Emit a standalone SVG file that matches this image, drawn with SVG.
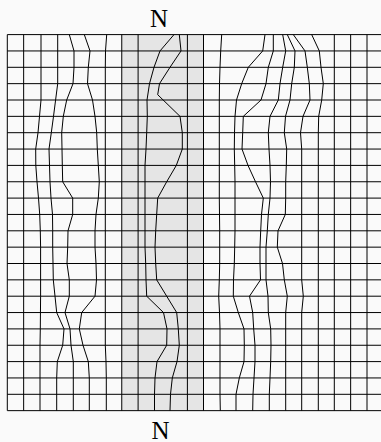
<svg xmlns="http://www.w3.org/2000/svg" width="381" height="442" viewBox="0 0 381 442">
<style>
.g{fill:none;stroke:#000;stroke-width:1}
.w{fill:none;stroke:#000;stroke-width:1;stroke-linejoin:round}
.lbl{font-family:"Liberation Serif","Times New Roman",serif;font-size:25px;fill:#000;text-anchor:middle}
</style>
<rect width="381" height="442" fill="#fafafa"/>
<g id="band"><rect x="121.75" y="34.6" width="81.75" height="376.05" fill="#e5e5e5"/></g>
<g id="horizontal">
<path class="g" d="M7.3 34.6H381M7.3 50.95H381M7.3 67.3H381M7.3 83.65H381M7.3 100H381M7.3 116.35H381M7.3 132.7H381M7.3 149.05H381M7.3 165.4H381M7.3 181.75H381M7.3 198.1H381M7.3 214.45H381M7.3 230.8H381M7.3 247.15H381M7.3 263.5H381M7.3 279.85H381M7.3 296.2H381M7.3 312.55H381M7.3 328.9H381M7.3 345.25H381M7.3 361.6H381M7.3 377.95H381M7.3 394.3H381M7.3 410.65H381"/>
</g>
<g id="vertical-straight">
<path class="g" d="M7.3 34.6V410.65M23.65 34.6V410.65M121.75 34.6V410.65M138.1 34.6V410.65M187.4 34.6V410.65M203.5 34.6V410.65M334.3 34.6V410.65M350.65 34.6V410.65M367 34.6V410.65"/>
</g>
<g id="vertical-deformed">
<polyline class="w" points="41,34.6 41,100 39.5,116.35 38,132.7 35.7,149.05 35.8,165.4 37,181.75 38.5,198.1 39.7,214.45 40.3,230.8 40.6,247.15 40.6,296.2 40.3,328.9 40,345.25 40,410.65"/>
<polyline class="w" points="57.7,34.6 57.7,83.65 55.6,100 53.5,116.35 51.3,132.7 49,149.05 49.5,165.4 50,181.75 51,198.1 52.5,214.45 52.7,230.8 52.7,247.15 53,263.5 53.3,279.85 55,296.2 56.7,312.55 64,328.9 62.7,345.25 57.3,361.6 56.7,377.95 56.7,410.65"/>
<polyline class="w" points="69.3,34.6 74,50.95 74,67.3 73,83.65 66.7,100 63.3,116.35 61.7,132.7 62,149.05 62.3,165.4 62.7,181.75 72.7,198.1 72.7,214.45 68,230.8 67.7,247.15 67,263.5 69.3,279.85 69.3,296.2 65,312.55 70,328.9 71,345.25 73.3,361.6 73.3,410.65"/>
<polyline class="w" points="84.3,34.6 90,50.95 88.3,67.3 87.5,83.65 92.5,100 95,116.35 96.7,132.7 97.3,149.05 98.3,165.4 99.3,181.75 98.3,198.1 96,214.45 95,230.8 95,247.15 96,263.5 96.5,279.85 95,296.2 81.7,312.55 79.3,328.9 83,345.25 88.3,361.6 89.3,377.95 89.3,410.65"/>
<polyline class="w" points="106.7,34.6 105.5,50.95 105.3,67.3 105.3,345.25 106,361.6 106.3,377.95 106.3,410.65"/>
<polyline class="w" points="174,34.6 160,50.95 154,67.3 149.5,83.65 147,100 147.3,116.35 146.7,132.7 146,149.05 145,165.4 145,247.15 145.7,263.5 146,279.85 146.7,296.2 163.5,312.55 167,328.9 166.7,345.25 157,361.6 155,377.95 154.5,394.3 154.5,410.65"/>
<polyline class="w" points="179.3,34.6 181,50.95 170,67.3 159.5,83.65 157.7,94.7 180,116.35 182.3,132.7 182.3,149.05 176.3,165.4 166.7,181.75 157.7,198.1 156.7,214.45 155.7,230.8 155,247.15 155.7,263.5 156.7,279.85 166.7,296.2 176.7,312.55 178.3,328.9 179.3,345.25 177,361.6 172.3,377.95 170.5,394.3 170,410.65"/>
<polyline class="w" points="221.7,34.6 220.7,50.95 220,67.3 219.5,83.65 219.3,100 219.3,198.1 219.7,230.8 219.7,263.5 219.3,279.85 218.7,296.2 219.5,312.55 220,328.9 220,394.3 220.3,410.65"/>
<polyline class="w" points="265,34.6 262.7,50.95 248.3,67.3 241.7,83.65 236.5,100 235,116.35 234.5,132.7 234.3,149.05 234.7,165.4 235,181.75 235,230.8 234.7,247.15 234.3,263.5 233.5,279.85 233.3,296.2 238.3,312.55 244,328.9 244.3,345.25 244,361.6 239.3,377.95 236,394.3 236,410.65"/>
<polyline class="w" points="273.3,34.6 273.3,50.95 268.3,67.3 266,83.65 261,100 243.3,116.35 242.7,132.7 242,149.05 248,165.4 255.5,181.75 263.3,198.1 261.5,214.45 260.7,230.8 260,247.15 260,263.5 260.5,279.85 249.5,296.2 252.7,312.55 253.7,328.9 255,345.25 255,361.6 254,377.95 253,394.3 252.7,410.65"/>
<polyline class="w" points="282.7,34.6 285.7,50.95 282.7,67.3 280,83.65 278.3,100 270,116.35 268.3,132.7 269,149.05 270,165.4 270.5,181.75 270,198.1 268.3,214.45 267.3,230.8 266,247.15 266,279.85 268,296.2 268.3,312.55 270.7,328.9 271,345.25 270.7,361.6 270,377.95 269.3,394.3 269.3,410.65"/>
<polyline class="w" points="287.3,34.6 295,50.95 294.3,67.3 291.7,83.65 290,100 285.5,116.35 284.3,132.7 286.7,149.05 286.3,165.4 285.7,181.75 285.7,198.1 285.3,214.45 278,230.8 277.3,247.15 282.5,263.5 284.3,279.85 287.3,296.2 285.7,312.55 285.7,410.65"/>
<polyline class="w" points="293.3,34.6 305,50.95 307.3,67.3 309.3,83.65 310,100 303,116.35 300.5,132.7 301.7,149.05 301.7,279.85 303.3,296.2 301.7,312.55 301.7,410.65"/>
<polyline class="w" points="311.7,34.6 319.3,50.95 321,67.3 323.3,83.65 321.7,100 318.7,116.35 318.3,132.7 318.3,410.65"/>
</g>
<g id="label-top"><text class="lbl" x="159" y="27">N</text></g>
<g id="label-bottom"><text class="lbl" x="160.5" y="438.5">N</text></g>
</svg>
